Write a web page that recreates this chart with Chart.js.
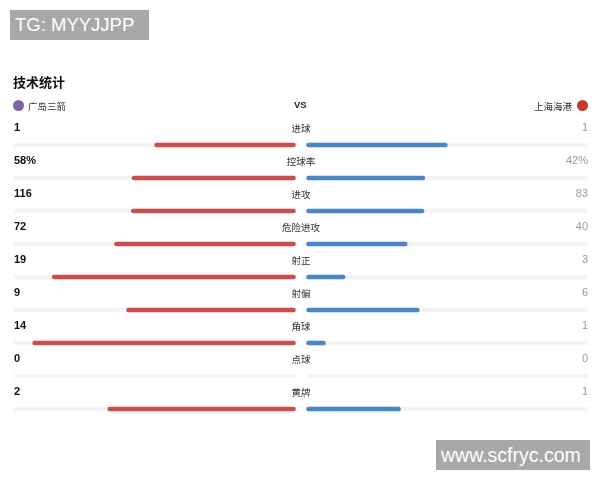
<!DOCTYPE html>
<html>
<head>
<meta charset="utf-8">
<script src="https://cdn.jsdelivr.net/npm/chart.js@4"></script>
<style>
  body { margin: 0; background: #fff; font-family: "Noto Sans CJK SC", "Liberation Sans", sans-serif; }
  #wrap { position: relative; width: 600px; height: 480px; overflow: hidden; }
  #chart { position: absolute; left: 0; top: 0; }
  .abs { position: absolute; white-space: nowrap; }
  .mark { background: #a8a8a8; color: #fff; font-family: "Liberation Sans", sans-serif; line-height: 30px; padding-left: 5px; }
  .crest { position: absolute; width: 11px; height: 11px; border-radius: 50%; }
</style>
</head>
<body>
<div id="wrap">
  <canvas id="chart" width="600" height="480"></canvas>
  <div class="abs mark" style="left:10px;top:10px;width:134px;height:30px;font-size:18.5px;">TG: MYYJJPP</div>
  <div class="abs mark" style="left:436px;top:440px;width:149px;height:30px;font-size:19.5px;">www.scfryc.com</div>
  <div class="abs" style="left:13px;top:72px;font-size:13px;font-weight:bold;color:#111;">技术统计</div>
  <div class="crest" style="left:13px;top:100px;background:#7a63a8;"></div>
  <div class="abs" style="left:28px;top:99px;font-size:9.5px;color:#333;">广岛三箭</div>
  <div class="abs" style="left:294px;top:99px;font-size:9.5px;font-weight:bold;color:#222;font-family:'Liberation Sans',sans-serif;">VS</div>
  <div class="abs" style="left:534px;top:99px;font-size:9.5px;color:#333;">上海海港</div>
  <div class="crest" style="left:577px;top:100px;background:#c43a2c;"></div>
</div>
<script>
const categories = ["进球", "控球率", "进攻", "危险进攻", "射正", "射偏", "角球", "点球", "黄牌"];
const homeValues = [1, 58, 116, 72, 19, 9, 14, 0, 2];
const awayValues = [1, 42, 83, 40, 3, 6, 1, 0, 1];
const homeLabels = ["1", "58%", "116", "72", "19", "9", "14", "0", "2"];
const awayLabels = ["1", "42%", "83", "40", "3", "6", "1", "0", "1"];

// gap between the two halves, in track units
const gap = 0.02;

function share(a, b) {
  return a + b === 0 ? 0 : a / (a + b);
}

const homeBars = homeValues.map((v, i) => {
  const s = share(v, awayValues[i]);
  return s === 0 ? null : [-(gap + s), -gap];
});
const awayBars = awayValues.map((v, i) => {
  const s = share(v, homeValues[i]);
  return s === 0 ? null : [gap, gap + s];
});

const rowText = {
  id: 'rowText',
  afterDatasetsDraw(chart) {
    const ctx = chart.ctx;
    const y = chart.scales.y;
    const area = chart.chartArea;
    const mid = (area.left + area.right) / 2;
    ctx.save();
    ctx.textBaseline = 'middle';
    categories.forEach((c, i) => {
      const ty = y.getPixelForValue(i) - 17;
      ctx.fillStyle = '#111';
      ctx.font = 'bold 11px "Liberation Sans", sans-serif';
      ctx.textAlign = 'left';
      ctx.fillText(homeLabels[i], area.left, ty);
      ctx.fillStyle = '#999';
      ctx.font = '11px "Liberation Sans", sans-serif';
      ctx.textAlign = 'right';
      ctx.fillText(awayLabels[i], area.right, ty);
      ctx.fillStyle = '#333';
      ctx.font = '9.5px "Noto Sans CJK SC", sans-serif';
      ctx.textAlign = 'center';
      ctx.fillText(c, mid, ty);
    });
    ctx.restore();
  }
};

const barStyle = {
  barThickness: 4,
  borderRadius: 2,
  borderSkipped: false,
  grouped: false
};

new Chart(document.getElementById('chart'), {
  type: 'bar',
  data: {
    labels: categories,
    datasets: [
      Object.assign({ label: '广岛三箭', data: homeBars, backgroundColor: '#c94f4e', order: 1 }, barStyle),
      Object.assign({ label: '上海海港', data: awayBars, backgroundColor: '#4a86c6', order: 1 }, barStyle),
      Object.assign({ label: 'trackL', data: categories.map(() => [-(gap + 1), -gap]), backgroundColor: '#f4f4f4', order: 2 }, barStyle),
      Object.assign({ label: 'trackR', data: categories.map(() => [gap, gap + 1]), backgroundColor: '#f4f4f4', order: 2 }, barStyle)
    ]
  },
  options: {
    indexAxis: 'y',
    responsive: false,
    animation: false,
    layout: { padding: { left: 14, right: 12, top: 128.5, bottom: 54.5 } },
    scales: {
      x: { display: false, min: -(1 + gap), max: 1 + gap },
      y: { display: false }
    },
    plugins: {
      legend: { display: false },
      tooltip: { enabled: false }
    }
  },
  plugins: [rowText]
});
</script>
</body>
</html>
